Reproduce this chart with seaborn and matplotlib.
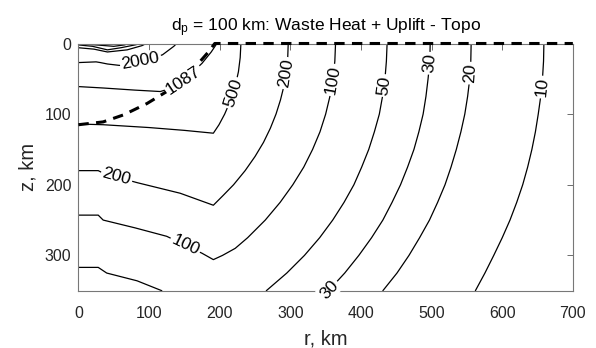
import numpy as np
import pandas as pd
import matplotlib
matplotlib.use("Agg")
import matplotlib.pyplot as plt
import seaborn as sns

# ---------------- data (r, z in km) ----------------
zz25 = [0, 25, 50, 75, 100, 125, 150, 175, 200, 225, 250, 275, 300, 325, 350]

c10_r = [659, 658.5, 657, 654.5, 651, 647, 642, 636, 629, 620.5, 611, 600, 588, 575.5, 562]
c10_z = zz25
c20_r = [556, 555.5, 554, 551, 547, 541.5, 535, 527.5, 519, 508.5, 497, 483, 468, 451, 431]
c20_z = zz25
c30_r = [498, 497.5, 495, 492, 488, 482, 475, 466, 456, 444, 431, 415, 397, 377, 354]
c30_z = zz25
c50_r = [437, 436, 434, 430.5, 426, 419, 411, 401, 390, 376, 360, 341.5, 320, 295, 266]
c50_z = zz25
c50b_r = [0, 28, 40, 83, 118]
c50b_z = [317, 317, 325, 336, 350]
c100_r = [0, 28, 35, 80, 125, 150, 175, 191, 204, 222, 239.5, 264.5, 285.5, 303.5,
          319, 331.5, 342, 350, 356, 360.5, 363, 364]
c100_z = [243, 243, 250, 261, 273, 285, 297, 306, 300, 290, 275, 250, 225, 200,
          175, 150, 125, 100, 75, 50, 25, 0]
c200_r = [0, 28, 36, 83, 144, 191, 205, 219.6, 236, 250, 262, 271.7, 279.7, 286,
          291, 294.3, 296.3, 297]
c200_z = [180, 180, 184, 197, 212, 229, 215, 200, 180, 160, 140, 120, 100, 80,
          60, 40, 20, 0]
c500_r = [0, 35, 100, 150, 191, 199, 207, 215.6, 222, 226.5, 229, 230]
c500_z = [114, 115, 119, 123, 127, 115, 100, 80, 60, 40, 20, 0]
c1000_r = [0, 35, 80, 116, 132, 155, 175, 188, 196]
c1000_z = [61, 63, 66, 68, 63, 47, 28, 12, 0]
c2000_r = [0, 25, 31, 41, 58, 90, 119, 135, 139]
c2000_z = [27, 26, 27, 29, 31, 25, 16, 4, 0]
c5000_r = [0, 22, 41, 69, 90, 96]
c5000_z = [6, 8, 12, 9, 3, 0]
c10000_r = [0, 20, 41, 60, 80, 88]
c10000_z = [2, 4, 9, 6, 2, 0]
c20000_r = [0, 25, 50, 65, 72]
c20000_z = [0.5, 2, 4, 2, 0]

# 1087 contour of the second field (dashed)
melt_r = [0, 35, 64, 97, 125, 149, 170, 184, 193, 700]
melt_z = [115, 111, 101, 85, 68, 52, 28, 12, 0, 0]

# contour labels: text, approximate r, z on the line, line they belong to
lab_text = ["10", "20", "30", "50", "100", "200", "500", "1087", "2000", "200", "100", "30"]
lab_r = [659, 555, 497, 436, 362, 294, 219, 149, 88, 54, 151, 356]
lab_z = [62, 42, 28, 60, 52, 42, 70, 52, 25, 189, 286, 349]
lab_line = ["c10", "c20", "c30", "c50", "c100", "c200", "c500", "melt", "c2000", "c200", "c100", "c30"]

title_text = r"d$_\mathrm{p}$ = 100 km: Waste Heat + Uplift - Topo"

# ---------------------------------------------------------------------------
lines = {
    "c10": (c10_r, c10_z), "c20": (c20_r, c20_z), "c30": (c30_r, c30_z),
    "c50": (c50_r, c50_z), "c50b": (c50b_r, c50b_z), "c100": (c100_r, c100_z),
    "c200": (c200_r, c200_z), "c500": (c500_r, c500_z), "c1000": (c1000_r, c1000_z),
    "c2000": (c2000_r, c2000_z), "c5000": (c5000_r, c5000_z),
    "c10000": (c10000_r, c10000_z), "c20000": (c20000_r, c20000_z),
    "melt": (melt_r, melt_z),
}

rows = []
for name, (rr, zz) in lines.items():
    if name == "melt":
        continue
    for i, (a, b) in enumerate(zip(rr, zz)):
        rows.append({"seg": name, "i": i, "r": a, "z": b})
df = pd.DataFrame(rows)

sns.set_style("white")
plt.rcParams["font.family"] = ["Liberation Sans", "DejaVu Sans"]
plt.rcParams["mathtext.fontset"] = "custom"
plt.rcParams["mathtext.rm"] = "Liberation Sans"
plt.rcParams["mathtext.it"] = "Liberation Sans:italic"

fig = plt.figure(figsize=(5.96, 3.48), dpi=100)
ax = fig.add_axes([78.3 / 596, 1 - 290.7 / 348, 494.7 / 596, 247.2 / 348])

sns.lineplot(data=df, x="r", y="z", units="seg", estimator=None, sort=False,
             color="black", lw=0.9, ax=ax, legend=False)

sns.lineplot(x=melt_r, y=melt_z, estimator=None, sort=False, color="black",
             lw=2.2, ax=ax, legend=False)
mline = ax.lines[-1]
mline.set_dashes([3.4, 2.4])
mline.set_clip_on(False)
mline.set_zorder(4)

ax.set_xlim(0, 700)
ax.set_ylim(350, 0)
ax.set_aspect("equal", adjustable="box")

# inline contour labels
for txt, lr, lz, ln in zip(lab_text, lab_r, lab_z, lab_line):
    rr, zz = np.asarray(lines[ln][0], float), np.asarray(lines[ln][1], float)
    p = np.array([lr, lz], float)
    best = None
    for k in range(len(rr) - 1):
        a = np.array([rr[k], zz[k]]); b = np.array([rr[k + 1], zz[k + 1]])
        d = b - a
        t = np.clip(np.dot(p - a, d) / max(np.dot(d, d), 1e-9), 0, 1)
        q = a + t * d
        dist = np.linalg.norm(p - q)
        if best is None or dist < best[0]:
            best = (dist, q, d)
    _, q, d = best
    ang = np.degrees(np.arctan2(-d[1], d[0]))
    if ang > 90:
        ang -= 180
    if ang <= -90:
        ang += 180
    ax.text(q[0], q[1], txt, rotation=ang, rotation_mode="anchor",
            ha="center", va="center", fontsize=12.5, color="black", zorder=5,
            bbox=dict(boxstyle="square,pad=0.1", fc="white", ec="none"))

ax.set_xticks(range(0, 701, 100))
ax.set_yticks([0, 100, 200, 300])
ax.tick_params(direction="in", top=True, right=True, length=4, width=0.6,
               color="#555555", labelcolor="#262626", labelsize=11.5)
ax.tick_params(axis="x", pad=11)
ax.tick_params(axis="y", pad=5)
for s in ax.spines.values():
    s.set_color("#777777")
    s.set_linewidth(0.8)

ax.set_xlabel("r, km", fontsize=14.5, color="#262626", labelpad=6)
ax.set_ylabel("z, km", fontsize=14.5, color="#262626", labelpad=5)
ax.set_title(title_text, fontsize=12.5, color="black", pad=9)

fig.savefig("out.png", dpi=100, facecolor="white")
